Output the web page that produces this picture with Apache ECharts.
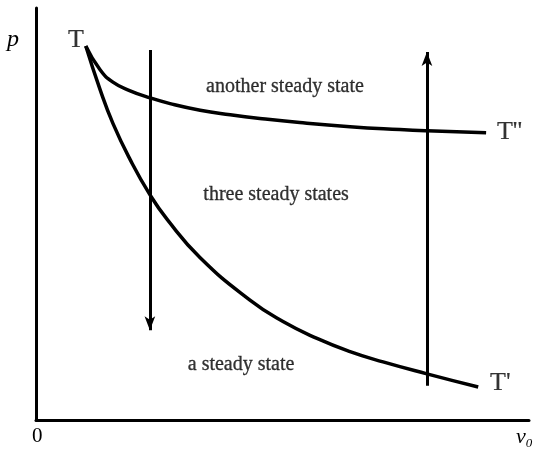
<!DOCTYPE html>
<html>
<head>
<meta charset="utf-8">
<script src="https://cdn.jsdelivr.net/npm/echarts@6/dist/echarts.min.js"></script>
<style>html,body{margin:0;padding:0;background:#fff}#c{width:535px;height:455px}</style>
</head>
<body>
<div id="c"></div>
<script>
// Curve T' (lower curve): [v0, p]
var curveTPrime = [[1.01,9.08],[1.30,8.02],[1.56,7.20],[1.91,6.32],[2.31,5.47],[2.66,4.87],[3.33,3.94],[4.34,2.91],[5.01,2.39],[5.70,1.98],[6.37,1.66],[7.04,1.41],[7.93,1.12],[8.97,0.80]];
// Curve T'' (upper curve)
var curveTDouble = [[1.01,9.08],[1.30,8.50],[1.56,8.20],[1.91,7.99],[2.31,7.82],[2.72,7.68],[3.33,7.52],[3.94,7.41],[4.54,7.32],[5.35,7.22],[6.37,7.12],[7.38,7.05],[7.93,7.02],[9.13,6.97]];
// Arrows: [start, end(tip)]
var arrowDown = [[2.31,8.98],[2.31,2.18]];
var arrowUp = [[7.93,0.83],[7.93,8.93]];
// Text annotations: [x, y, text]
var regionLabels = [[5.05,8.08,'another steady state'],[4.87,5.46,'three steady states'],[4.16,1.33,'a steady state']];
var curveLabels = [[0.81,9.22,'T','center'],[9.35,6.99,"T''",'left'],[9.21,0.90,"T'",'left']];

var chart = echarts.init(document.getElementById('c'));
var serif = '"Liberation Serif","DejaVu Serif",serif';
var axisCommon = {
  type:'value', min:0, max:10,
  axisLine:{show:true, onZero:false, lineStyle:{color:'#000', width:3}},
  axisTick:{show:false}, axisLabel:{show:false}, splitLine:{show:false}
};
chart.setOption({
  animation:false,
  backgroundColor:'#fff',
  grid:{left:36, right:6, top:8, bottom:35},
  xAxis:axisCommon,
  yAxis:axisCommon,
  graphic:[
    {type:'text', left:7, top:28, style:{text:'p', font:'italic 24px '+serif, fill:'#000'}},
    {type:'text', left:32, top:426, style:{text:'0', font:'21px '+serif, fill:'#000'}},
    {type:'text', left:516, top:426, style:{
      text:'{v|v}{s|0}', fill:'#000',
      rich:{v:{font:'italic 22px '+serif, fill:'#000'}, s:{font:'italic 13px '+serif, fill:'#000', padding:[14,0,0,0]}}
    }}
  ],
  series:[
    {type:'line', data:curveTPrime, smooth:true, symbol:'none', lineStyle:{color:'#000', width:3.5}},
    {type:'line', data:curveTDouble, smooth:true, symbol:'none', lineStyle:{color:'#000', width:3.5}},
    {type:'line', data:[], symbol:'none',
      markLine:{silent:true, symbol:['none','arrow'], symbolSize:[8,14], label:{show:false},
        lineStyle:{color:'#000', width:3, type:'solid'},
        data:[
          [{coord:arrowDown[0]},{coord:arrowDown[1]}],
          [{coord:arrowUp[0]},{coord:arrowUp[1]}]
        ]}
    },
    {type:'scatter', symbolSize:0, data:regionLabels.map(function(d){return [d[0],d[1],d[2]];}),
      label:{show:true, position:'inside', formatter:function(p){return p.data[2];}, color:'#000', textBorderColor:'#000', textBorderWidth:0.3, fontFamily:serif, fontSize:20}},
    {type:'scatter', symbolSize:0, data:curveLabels.map(function(d){return {value:[d[0],d[1],d[2]], label:{align:d[3]}};}),
      label:{show:true, position:'inside', formatter:function(p){return p.data.value[2];}, color:'#000', textBorderColor:'#000', textBorderWidth:0.2, fontFamily:serif, fontSize:26}}
  ]
});
</script>
</body>
</html>
